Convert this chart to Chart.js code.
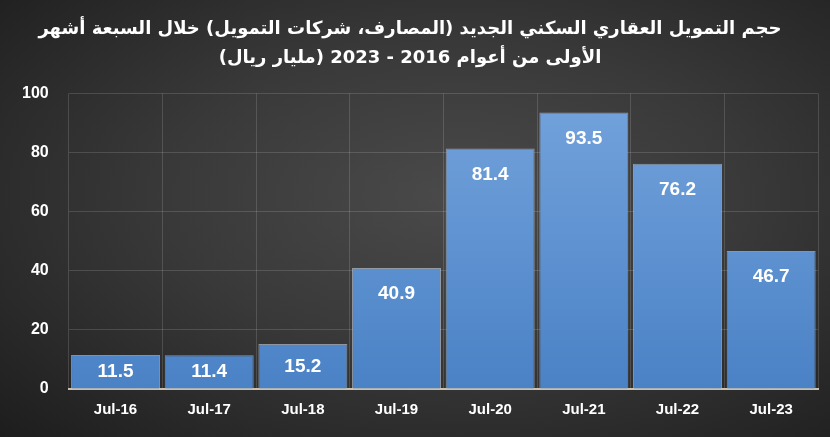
<!DOCTYPE html>
<html lang="ar">
<head>
<meta charset="UTF-8">
<title>حجم التمويل العقاري</title>
<script src="https://cdn.jsdelivr.net/npm/chart.js"></script>
<style>
    html, body {
        margin: 0;
        padding: 0;
        width: 830px;
        height: 437px;
        overflow: hidden;
    }
    body {
        background: radial-gradient(ellipse at 55% 45%, #4a4a4a 0%, #393939 45%, #1d1d1d 100%);
    }
    .chart-box {
        position: relative;
        width: 830px;
        height: 437px;
    }
</style>
</head>
<body>
<div class="chart-box">
    <canvas id="loanChart" dir="rtl"></canvas>
</div>
<script>
    // data
    const categories = ['Jul-16', 'Jul-17', 'Jul-18', 'Jul-19', 'Jul-20', 'Jul-21', 'Jul-22', 'Jul-23'];
    const values = [11.5, 11.4, 15.2, 40.9, 81.4, 93.5, 76.2, 46.7];
    const titleLines = [
        'حجم التمويل العقاري السكني الجديد (المصارف، شركات التمويل) خلال السبعة أشهر',
        'الأولى من أعوام 2016 - 2023 (مليار ريال)'
    ];

    const labelFont = '"Liberation Sans Narrow", "Liberation Sans", Arial, sans-serif';

    // values written inside the bars
    const barLabels = {
        id: 'barLabels',
        afterDatasetsDraw(chart) {
            const ctx = chart.ctx;
            const meta = chart.getDatasetMeta(0);
            ctx.save();
            ctx.direction = 'ltr';
            ctx.fillStyle = '#ffffff';
            ctx.font = 'bold 19px ' + labelFont;
            ctx.textAlign = 'center';
            ctx.textBaseline = 'middle';
            meta.data.forEach((bar, i) => {
                const y = Math.min(bar.y + 26, (bar.y + bar.base) / 2);
                ctx.fillText(values[i].toFixed(1), bar.x, y);
            });
            ctx.restore();
        }
    };

    function barFill(context) {
        const chart = context.chart;
        const area = chart.chartArea;
        if (!area) return '#5b8fcf';
        const g = chart.ctx.createLinearGradient(0, area.top, 0, area.bottom);
        g.addColorStop(0, '#74a3dc');
        g.addColorStop(1, '#4a82c6');
        return g;
    }

    new Chart(document.getElementById('loanChart'), {
        type: 'bar',
        data: {
            labels: categories,
            datasets: [{
                data: values,
                backgroundColor: barFill,
                borderColor: 'rgba(210,225,245,0.55)',
                borderWidth: { top: 1, left: 1, right: 1, bottom: 0 },
                categoryPercentage: 0.95,
                barPercentage: 1.0
            }]
        },
        options: {
            responsive: true,
            maintainAspectRatio: false,
            animation: false,
            layout: { padding: { left: 2, right: 12, top: 4, bottom: 6 } },
            plugins: {
                legend: { display: false },
                tooltip: { enabled: false },
                title: {
                    display: true,
                    text: titleLines,
                    color: '#ffffff',
                    font: { family: '"DejaVu Sans", sans-serif', size: 18, weight: 'bold', lineHeight: 1.65 },
                    padding: { top: 10, bottom: 20 }
                }
            },
            scales: {
                x: {
                    grid: { color: 'rgba(255,255,255,0.14)', lineWidth: 1, drawTicks: false },
                    border: { color: '#c9c0ae', width: 2 },
                    ticks: {
                        color: '#ffffff',
                        font: { family: labelFont, size: 15, weight: 'bold' },
                        padding: 12
                    }
                },
                y: {
                    min: 0,
                    max: 100,
                    grid: { color: 'rgba(255,255,255,0.14)', lineWidth: 1, drawTicks: false },
                    border: { display: false },
                    ticks: {
                        stepSize: 20,
                        color: '#ffffff',
                        font: { family: labelFont, size: 16, weight: 'bold' },
                        padding: 20
                    }
                }
            }
        },
        plugins: [barLabels]
    });
</script>
</body>
</html>
